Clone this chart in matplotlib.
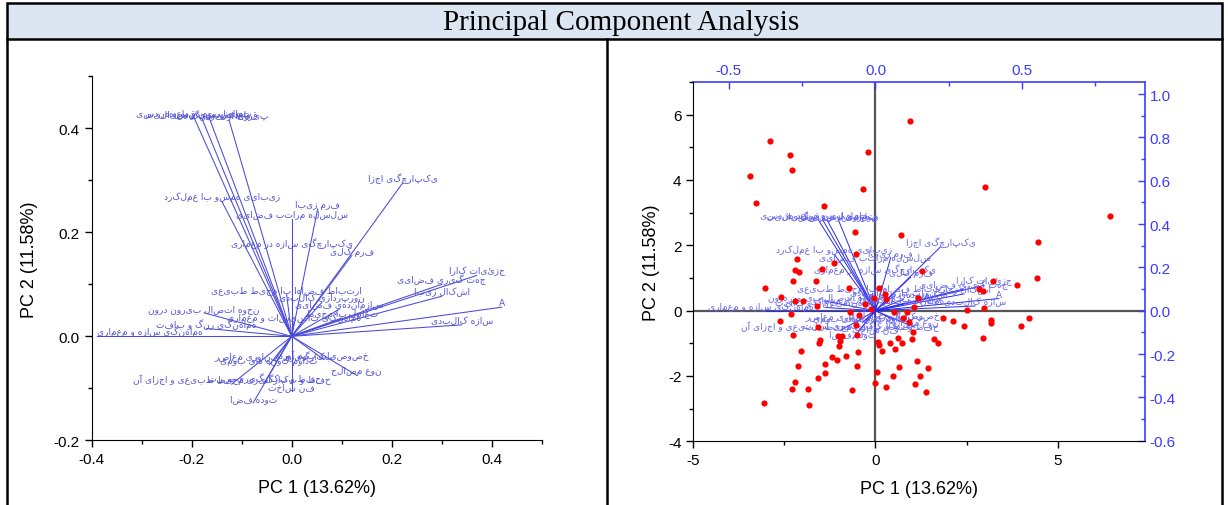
import matplotlib.pyplot as plt
from matplotlib.ticker import MultipleLocator, FuncFormatter
from matplotlib.lines import Line2D
from matplotlib.patches import Rectangle

plt.rcParams['font.family'] = ['Liberation Sans', 'DejaVu Sans']
plt.rcParams['axes.unicode_minus'] = False

# loadings (variables)
var_names = [
    'تمایز بین قواعد هندسی', 'قواعد هندسی و سیالیت', 'تمایل به هندسه', 'پیروی از فرهنگ',
    'زیبایی همسو با عملکرد', 'فرم زیبا', 'سلسله مراتب فضایی', 'یکپارچگی اجزا',
    'یکپارچگی سازه در معماری', 'فرم کلی', 'جزئیات کارا', 'جهت گیری فضایی',
    'اشکال زیبا', 'A', 'سازه کالبدی', 'ارتباط فضاها با محیط طبیعی',
    'نورپردازی کالبدی', 'سازماندهی فضایی', 'هماهنگی تاسیسات و معماری', 'تعامل با محیط',
    'نحوه اتصال بیرون درون', 'هماهنگی رنگ و بافت', 'هماهنگی سازه و معماری',
    'بکارگیری فناوری معاصر', 'تداوم گونه های بومی', 'خصوصیات بوم آورد', 'نوع مصالح',
    'حفظ و بکارگیری محیط طبیعی و اجزای آن', 'حفظ و بکارگیری سنت', 'فن ساخت', 'توده فضا',
]
pc1_load = [-0.195, -0.18, -0.165, -0.125, -0.14, 0.052, 0.0, 0.222,
            0.0, 0.12, 0.37, 0.30, 0.30, 0.42, 0.34, -0.01,
            0.06, 0.095, 0.005, 0.10, -0.175, -0.17, -0.39,
            -0.035, -0.045, 0.065, 0.13, -0.12, -0.055, 0.0, -0.077]
pc2_load = [0.42, 0.42, 0.42, 0.415, 0.26, 0.245, 0.225, 0.295,
            0.17, 0.155, 0.117, 0.10, 0.077, 0.056, 0.022, 0.08,
            0.065, 0.052, 0.028, 0.035, 0.045, 0.015, 0.0,
            -0.047, -0.055, -0.045, -0.075, -0.092, -0.09, -0.105, -0.128]

# scores (cases)
score_pc1 = [0.96, -2.90, -2.34, -0.21, -2.29, -3.45, -0.33, -3.27, -1.40, -0.57, 0.70, -2.15, -0.53, -1.15,
             3.00, 6.45, 4.47,
             -2.20, -2.09, -1.47, -2.26, -1.63, -3.04, -0.73, 0.11, 0.25, -2.60, -2.22, -1.99, -1.60, -0.28,
             -0.05, 0.29, -0.12, -0.71, -0.46, 0.52, 0.88, -2.31, -2.63, 0.77, 0.93, -1.58, -0.53, 1.02,
             -2.26, -1.03, -0.91, -0.97, -0.51, 0.62, 0.99, -1.53, -1.56, -1.00, 0.06, 0.11, 0.41, 0.72,
             0.18, 0.55, -2.03, -0.47, -1.20, -0.81, -1.06, 1.14, -1.39, -2.13, -0.50, 0.64, 0.05, -1.39,
             -1.58, 0.47, -2.20, 0.00, 1.09, -2.29, -1.84, 0.30, -0.64, -3.07, -1.83, 1.22,
             1.29, 4.44, 3.23, 3.88, 2.85, 2.95, 1.16, 2.50, 2.97, 1.07, 1.85, 2.14, 2.43, 3.17, 3.17,
             4.22, 3.99, 2.96, 1.60, 1.71, 1.45, 1.39]
score_pc2 = [5.80, 5.20, 4.77, 4.85, 4.31, 4.12, 3.71, 3.30, 3.19, 2.41, 2.33, 1.59, 1.72, 1.45,
             3.78, 2.89, 2.11,
             1.23, 1.19, 1.26, 0.90, 0.91, 0.70, 0.69, 0.69, 0.52, 0.42, 0.28, 0.28, 0.15, 0.21,
             0.38, 0.36, 0.05, -0.03, -0.12, -0.03, -0.03, -0.09, -0.32, -0.22, -0.36, -0.51, -0.44, -0.66,
             -0.75, -0.78, -0.78, -0.92, -0.74, -0.83, -0.88, -0.90, -0.98, -1.08, -0.97, -1.04, -1.00, -1.00,
             -1.24, -1.18, -1.25, -1.26, -1.41, -1.40, -1.50, -1.55, -1.62, -1.70, -1.68, -1.71, -1.88, -1.90,
             -2.05, -2.01, -2.19, -2.21, -2.24, -2.40, -2.40, -2.34, -2.44, -2.82, -2.90, -1.99,
             1.22, 1.01, 0.90, 0.80, 0.66, 0.60, 0.39, 0.03, 0.08, 0.12, -0.21, -0.33, -0.46, -0.29, -0.39,
             -0.21, -0.47, -0.83, -0.87, -1.00, -1.75, -2.48]

title = 'Principal Component Analysis'
pc1_label = 'PC 1 (13.62%)'
pc2_label = 'PC 2 (11.58%)'

W, H = 1228, 506
BLUE = '#3c3cff'
fig = plt.figure(figsize=(W / 100, H / 100), dpi=100)


def box(x0, y0, x1, y1):
    # pixel box (from top-left) -> figure fraction
    return [x0 / W, 1 - y1 / H, (x1 - x0) / W, (y1 - y0) / H]


def rtl(s):
    # matplotlib has no bidi support, so show the letters right to left
    return s[::-1]


def fmt1(v, pos):
    return '0.0' if abs(v) < 1e-9 else '%.1f' % v


# table frame
fig.patches.append(Rectangle((7 / W, 1 - 40 / H), (1222 - 7) / W, 36 / H, transform=fig.transFigure,
                             facecolor='#dce6f2', edgecolor='black', lw=1.8))
for xp in [7, 607, 1222]:
    fig.add_artist(Line2D([xp / W, xp / W], [0, 1 - 40 / H], color='black', lw=1.8))
fig.text(621 / W, 1 - 23 / H, title, ha='center', va='center', fontsize=21,
         family='Liberation Serif')

# left panel: loading plot
ax1 = fig.add_axes(box(91.7, 77.3, 541.7, 441.3))
for name, x, y in zip(var_names, pc1_load, pc2_load):
    ax1.plot([0, x], [0, y], color='#4a4ad8', lw=0.75)
    ax1.text(x, y, rtl(name), ha='left' if x < -0.3 else 'center', va='bottom',
             fontsize=6.5, color='#5252d4', family=['DejaVu Sans'])
ax1.set_xlim(-0.4, 0.5)
ax1.set_ylim(-0.2, 0.5)
ax1.spines['top'].set_visible(False)
ax1.spines['right'].set_visible(False)
ax1.xaxis.set_major_locator(MultipleLocator(0.2))
ax1.xaxis.set_minor_locator(MultipleLocator(0.1))
ax1.yaxis.set_major_locator(MultipleLocator(0.2))
ax1.yaxis.set_minor_locator(MultipleLocator(0.1))
ax1.xaxis.set_major_formatter(FuncFormatter(fmt1))
ax1.yaxis.set_major_formatter(FuncFormatter(fmt1))
ax1.tick_params(labelsize=11, length=5, width=1)
ax1.tick_params(which='minor', length=3, width=1)
ax1.set_xlabel(pc1_label, fontsize=13, labelpad=9)
ax1.set_ylabel(pc2_label, fontsize=13, labelpad=11)

# right panel: biplot, loadings on top/right axes, scores on bottom/left
pos = box(693.3, 83, 1145, 442.3)
axL = fig.add_axes(pos)
axS = fig.add_axes(pos, zorder=2)
axS.patch.set_alpha(0)

axL.axhline(0, color='#555555', lw=1.6, zorder=0)
axL.axvline(0, color='#555555', lw=1.6, zorder=0)
for name, x, y in zip(var_names, pc1_load, pc2_load):
    axL.plot([0, x], [0, y], color='#2a2af0', lw=0.7)
    axL.text(x, y, rtl(name), ha='center', va='bottom', fontsize=6.5, color='#6464ec',
             family=['DejaVu Sans'])
axL.set_xlim(-0.621, 0.919)
axL.set_ylim(-0.603, 1.056)
axL.xaxis.tick_top()
axL.yaxis.tick_right()
axL.xaxis.set_major_locator(MultipleLocator(0.5))
axL.xaxis.set_minor_locator(MultipleLocator(0.25))
axL.yaxis.set_major_locator(MultipleLocator(0.2))
axL.yaxis.set_minor_locator(MultipleLocator(0.1))
axL.xaxis.set_major_formatter(FuncFormatter(fmt1))
axL.yaxis.set_major_formatter(FuncFormatter(fmt1))
axL.tick_params(which='both', direction='in', colors=BLUE, labelsize=11, width=1)
axL.tick_params(which='major', length=5)
axL.tick_params(which='minor', length=3)
for side in ['top', 'right']:
    axL.spines[side].set_color(BLUE)
    axL.spines[side].set_linewidth(1.2)
axL.spines['left'].set_visible(False)
axL.spines['bottom'].set_visible(False)

axS.scatter(score_pc1, score_pc2, s=20, color='red', linewidths=0)
axS.set_xlim(-5, 7.4)
axS.set_ylim(-4, 7)
axS.xaxis.set_major_locator(MultipleLocator(5))
axS.xaxis.set_minor_locator(MultipleLocator(2.5))
axS.yaxis.set_major_locator(MultipleLocator(2))
axS.yaxis.set_minor_locator(MultipleLocator(1))
axS.spines['top'].set_visible(False)
axS.spines['right'].set_visible(False)
axS.tick_params(labelsize=11, length=5, width=1)
axS.tick_params(which='minor', length=3, width=1)
axS.set_xlabel(pc1_label, fontsize=13, labelpad=9)
axS.set_ylabel(pc2_label, fontsize=13, labelpad=6)

fig.savefig('out.png', dpi=100)
